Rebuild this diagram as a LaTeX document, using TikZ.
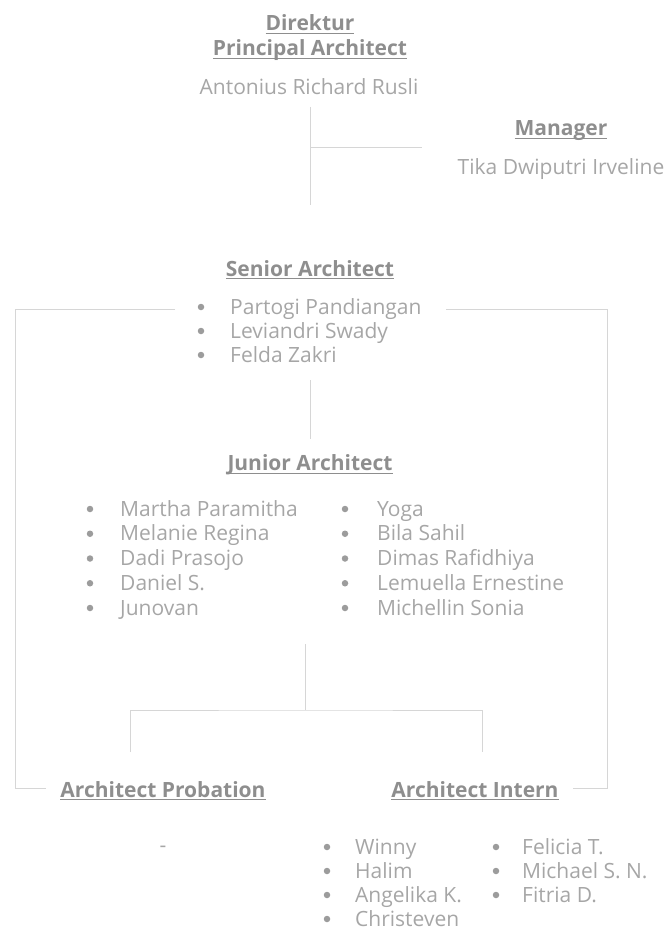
\documentclass[tikz,border=0pt]{standalone}
\usepackage{fontspec}
\setmainfont{Open Sans}
\usetikzlibrary{positioning}
\definecolor{txtgray}{HTML}{A6A6A6}
\definecolor{headgray}{HTML}{8E8E8E}
\definecolor{linegray}{HTML}{D6D6D6}
\definecolor{dotgray}{HTML}{9C9C9C}
\newsavebox{\hulbox}
\newcommand{\hul}[1]{\sbox{\hulbox}{#1}\rlap{\rule[-3pt]{\wd\hulbox}{1.1pt}}\usebox{\hulbox}}

\tikzset{
  head/.style={font=\fontsize{21}{25}\selectfont\bfseries, text=headgray, inner sep=0pt, align=center},
  person/.style={font=\fontsize{21}{25}\selectfont, text=txtgray, inner sep=0pt},
  item/.style={person, anchor=west, text height=15pt, text depth=5pt},
  dot/.style={fill=dotgray, draw=none, circle, minimum size=6.5pt, inner sep=0pt},
  conn/.style={draw=linegray, line width=1pt}
}

\begin{document}
\begin{tikzpicture}[x=1pt, y=-1pt]
  \useasboundingbox (0,0) rectangle (667,931);

  % top
  \node[head] (dir) at (310,38) {\hul{Direktur}\\\hul{Principal Architect}};
  \node[person] (rusli) at (309,87) {Antonius Richard Rusli};
  \node[head] (mgr) at (561,131) {\hul{Manager}};
  \node[person] (tika) at (561,169) {Tika Dwiputri Irveline};

  % senior
  \node[head] (senior) at (310,270) {\hul{Senior Architect}};
  \foreach \n [count=\i] in {Partogi Pandiangan, Leviandri Swady, Felda Zakri} {
    \node[dot] (sd\i) at (201,{307+24*(\i-1)}) {};
    \node[item] (s\i) at (230,{309+24*(\i-1)}) {\n};
  }

  % junior
  \node[head] (junior) at (310,465) {\hul{Junior Architect}};
  \foreach \n [count=\i] in {Martha Paramitha, Melanie Regina, Dadi Prasojo, Daniel S., Junovan} {
    \node[dot] (jld\i) at (90,{509+24.75*(\i-1)}) {};
    \node[item] (jl\i) at (120,{511+24.75*(\i-1)}) {\n};
  }
  \foreach \n [count=\i] in {Yoga, Bila Sahil, Dimas Rafidhiya, Lemuella Ernestine, Michellin Sonia} {
    \node[dot] (jrd\i) at (345,{509+24.75*(\i-1)}) {};
    \node[item] (jr\i) at (377,{511+24.75*(\i-1)}) {\n};
  }

  % probation & intern
  \node[head] (prob) at (163,791) {\hul{Architect Probation}};
  \node[person] (none) at (163,849) {-};
  \node[head] (intern) at (475,791) {\hul{Architect Intern}};
  \foreach \n [count=\i] in {Winny, Halim, Angelika K., Christeven} {
    \node[dot] (ild\i) at (327,{847+24*(\i-1)}) {};
    \node[item] (il\i) at (355,{849+24*(\i-1)}) {\n};
  }
  \foreach \n [count=\i] in {Felicia T., Michael S. N., Fitria D.} {
    \node[dot] (ird\i) at (496,{847+24*(\i-1)}) {};
    \node[item] (ir\i) at (522,{849+24*(\i-1)}) {\n};
  }

  % connector ends
  \coordinate (a1) at (310,107);
  \coordinate (a2) at (310,205);
  \coordinate (am) at (310,147);
  \coordinate (am2) at (422,147);
  \coordinate (b1) at (310,380);
  \coordinate (b2) at (310,439);
  \coordinate (sl) at (175,309);
  \coordinate (sr) at (446,309);
  \coordinate (pl) at (46,788);
  \coordinate (pr) at (573,788);
  \coordinate (c1) at (305,644);
  \coordinate (c2) at (305,710);
  \coordinate (cl) at (130,752);
  \coordinate (cr) at (482,752);

  \draw[conn] (a1) -- (a2);
  \draw[conn] (am) -- (am2);
  \draw[conn] (b1) -- (b2);
  \draw[conn] (sl) -| (15,788) -- (pl);
  \draw[conn] (sr) -| (607,788) -- (pr);
  \draw[conn] (c1) -- (c2);
  \draw[conn] (cl) |- (c2) -| (cr);
\end{tikzpicture}
\end{document}
